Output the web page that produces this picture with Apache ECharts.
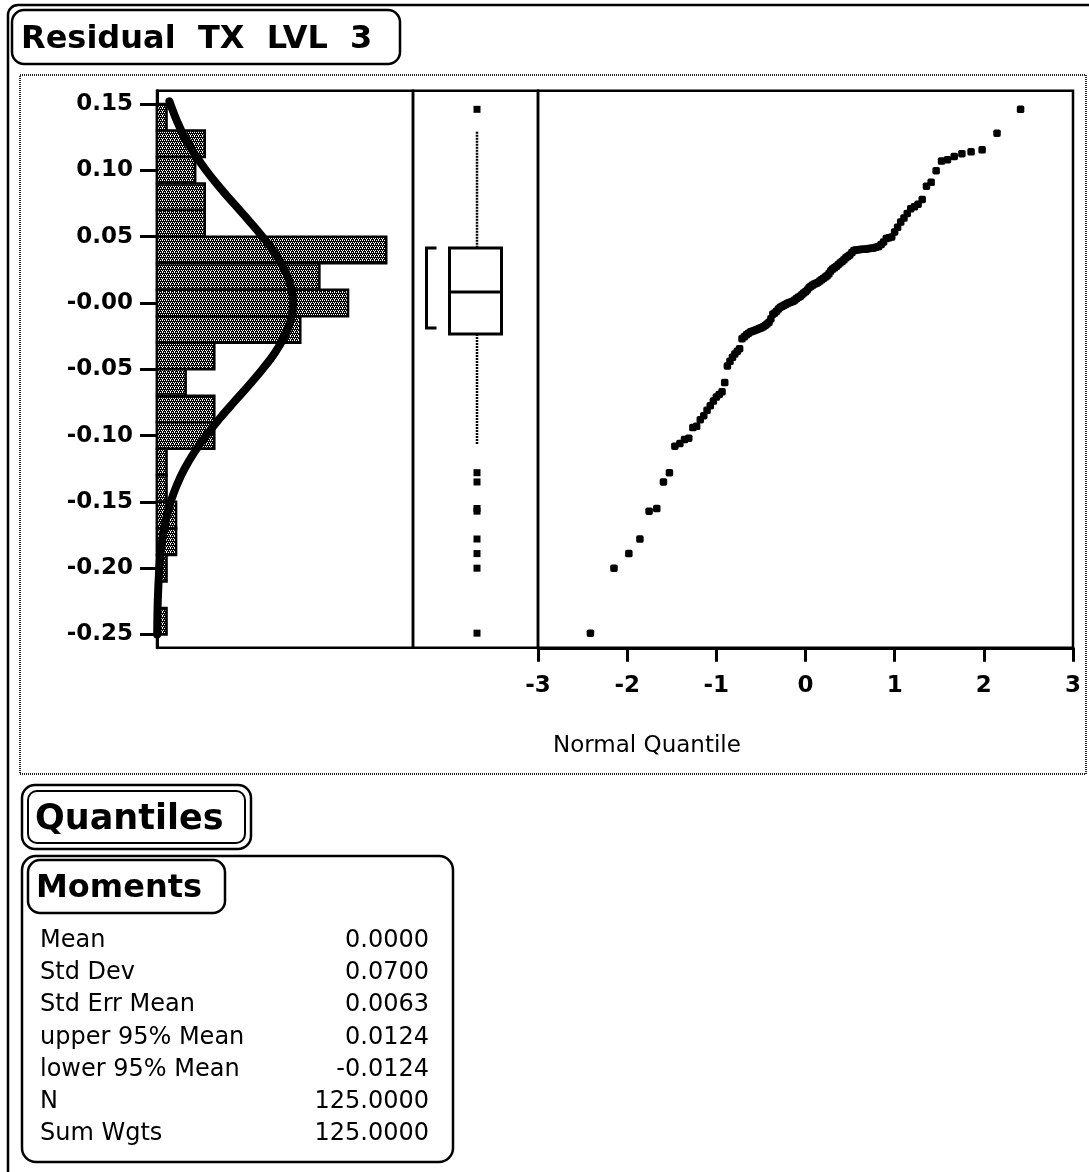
<!DOCTYPE html>
<html>
<head>
<meta charset="utf-8">
<script src="https://cdn.jsdelivr.net/npm/echarts@6.0.0/dist/echarts.min.js"></script>
<style>
  html, body { margin: 0; padding: 0; background: #fff; }
  #chart { width: 1089px; height: 1172px; }
</style>
</head>
<body>
<div id="chart"></div>
<script>
// ---------------- DATA ----------------
const chartTitle = 'Residual  TX  LVL  3';

// Y axis ticks (residual value) and their printed labels
const yTickValues = [0.15, 0.10, 0.05, 0, -0.05, -0.10, -0.15, -0.20, -0.25];
const yTickLabels = ['0.15', '0.10', '0.05', '-0.00', '-0.05', '-0.10', '-0.15', '-0.20', '-0.25'];

// Histogram: upper edge of each bin and its count (bin width 0.02)
const histBinWidth = 0.02;
const histBinTops = [0.15, 0.13, 0.11, 0.09, 0.07, 0.05, 0.03, 0.01, -0.01, -0.03,
                     -0.05, -0.07, -0.09, -0.11, -0.13, -0.15, -0.17, -0.19, -0.21, -0.23];
const histCounts  = [1, 5, 4, 5, 5, 24, 17, 20, 15, 6,
                     3, 6, 6, 1, 1, 2, 2, 1, 0, 1];

// Fitted normal curve (in histogram count units), read along the residual axis
const normalCurveValues = [0.152, 0.1375, 0.125, 0.1125, 0.10, 0.0875, 0.075, 0.0625, 0.05, 0.0375,
                           0.025, 0.0125, 0, -0.0125, -0.025, -0.0375, -0.05, -0.0625, -0.075, -0.0875,
                           -0.10, -0.1125, -0.125, -0.1375, -0.15, -0.1625, -0.175, -0.1875, -0.20, -0.225, -0.25];
const normalCurveCounts = [1.3, 2.07, 2.89, 3.92, 5.14, 6.52, 8.03, 9.57, 11.04, 12.35,
                           13.37, 14.02, 14.25, 14.02, 13.37, 12.35, 11.04, 9.57, 8.03, 6.52,
                           5.14, 3.92, 2.89, 2.07, 1.43, 0.96, 0.63, 0.39, 0.24, 0.08, 0.02];

// Outlier box plot: [lower whisker, Q1, median, Q3, upper whisker]
const boxStats = [-0.107, -0.0235, 0.0083, 0.0414, 0.129];
// Shortest-half bracket [low, high]
const shortestHalf = [-0.0189, 0.0415];
const boxOutliers = [0.146, -0.128, -0.135, -0.155, -0.157, -0.178, -0.189, -0.200, -0.249];

// Normal quantile plot: normal quantile of each ordered residual
const normalQuantiles = [
  -2.412, -2.148, -1.981, -1.857, -1.754, -1.668, -1.593, -1.526, -1.465, -1.409,
  -1.357, -1.309, -1.263, -1.221, -1.180, -1.141, -1.104, -1.068, -1.033, -1.000,
  -0.967, -0.936, -0.906, -0.876, -0.847, -0.819, -0.792, -0.765, -0.739, -0.712,
  -0.687, -0.662, -0.638, -0.613, -0.589, -0.566, -0.543, -0.520, -0.497, -0.475,
  -0.453, -0.431, -0.409, -0.388, -0.366, -0.345, -0.324, -0.303, -0.282, -0.262,
  -0.241, -0.221, -0.200, -0.180, -0.160, -0.140, -0.120, -0.100, -0.080, -0.060,
  -0.040, -0.020, 0.000, 0.020, 0.040, 0.060, 0.080, 0.100, 0.120, 0.140,
  0.160, 0.180, 0.200, 0.221, 0.241, 0.262, 0.282, 0.303, 0.324, 0.345,
  0.366, 0.388, 0.409, 0.431, 0.453, 0.475, 0.497, 0.520, 0.543, 0.566,
  0.589, 0.613, 0.638, 0.662, 0.687, 0.712, 0.739, 0.765, 0.792, 0.819,
  0.847, 0.876, 0.906, 0.936, 0.967, 1.000, 1.033, 1.068, 1.104, 1.141,
  1.180, 1.221, 1.263, 1.309, 1.357, 1.409, 1.465, 1.526, 1.593, 1.668,
  1.754, 1.857, 1.981, 2.148, 2.412
];
const sortedResiduals = [
  -0.249, -0.200, -0.189, -0.178, -0.157, -0.155, -0.135, -0.128, -0.108, -0.106,
  -0.103, -0.102, -0.094, -0.093, -0.088, -0.085, -0.081, -0.0775, -0.074, -0.071,
  -0.069, -0.067, -0.060, -0.0475, -0.044, -0.041, -0.0385, -0.0365, -0.0345, -0.027,
  -0.0255, -0.024, -0.0228, -0.0218, -0.0212, -0.0205, -0.020, -0.0193, -0.0188, -0.018,
  -0.017, -0.0158, -0.0145, -0.012, -0.0085, -0.0075, -0.0062, -0.0045, -0.0032, -0.0025,
  -0.0018, -0.001, -0.0002, 0.0003, 0.0008, 0.0012, 0.0022, 0.0033, 0.0042, 0.005,
  0.0062, 0.0075, 0.0085, 0.0098, 0.0115, 0.0125, 0.0135, 0.0142, 0.0148, 0.0155,
  0.0165, 0.0175, 0.0185, 0.0195, 0.0205, 0.022, 0.024, 0.0255, 0.0265, 0.0275,
  0.0288, 0.0302, 0.0312, 0.0325, 0.034, 0.0352, 0.0362, 0.038, 0.0395, 0.040,
  0.0402, 0.0403, 0.0405, 0.0405, 0.0407, 0.041, 0.0412, 0.0415, 0.042, 0.0425,
  0.044, 0.046, 0.0485, 0.0492, 0.0498, 0.0535, 0.057, 0.061, 0.064, 0.0675,
  0.071, 0.0725, 0.0745, 0.078, 0.088, 0.091, 0.0997, 0.107, 0.108, 0.1105,
  0.1125, 0.114, 0.1155, 0.128, 0.146
];
const xTickLabelName = 'Normal Quantile';

// Moments table
const momentNames  = ['Mean', 'Std Dev', 'Std Err Mean', 'upper 95% Mean', 'lower 95% Mean', 'N', 'Sum Wgts'];
const momentValues = ['0.0000', '0.0700', '0.0063', '0.0124', '-0.0124', '125.0000', '125.0000'];
const quantilesTitle = 'Quantiles';
const momentsTitle = 'Moments';

// ---------------- CHART ----------------
const FONT = '"DejaVu Sans", Verdana, sans-serif';
const Y_MIN = -0.26, Y_MAX = 0.16;
const GRID_TOP = 90.75, GRID_H = 557;

// dither pattern for histogram bars (dark halftone)
const pat = document.createElement('canvas');
pat.width = 4; pat.height = 4;
(function () {
  const c = pat.getContext('2d');
  c.fillStyle = '#000'; c.fillRect(0, 0, 4, 4);
  c.fillStyle = '#fff';
  [[0, 0], [2, 0], [1, 2], [3, 2], [2, 3]].forEach(p => c.fillRect(p[0], p[1], 1, 1));
})();

const histData = histBinTops.map((t, i) => [histCounts[i], t - histBinWidth, t]);
const curveData = normalCurveValues.map((v, i) => [normalCurveCounts[i], v]);
const qqData = sortedResiduals.map((v, i) => [normalQuantiles[i], v]);
const outlierData = boxOutliers.map(v => [0, v]);

function yLabelFmt(v) {
  const i = yTickValues.findIndex(t => Math.abs(t - v) < 1e-9);
  return i >= 0 ? yTickLabels[i] : '';
}

const hiddenAxis = {
  axisLine: { show: false }, axisTick: { show: false },
  axisLabel: { show: false }, splitLine: { show: false }
};

const graphics = [];
// outer frame
graphics.push({ type: 'rect', shape: { x: 8, y: 5, width: 1100, height: 1200, r: 10 },
  style: { fill: 'none', stroke: '#000', lineWidth: 2.5 }, silent: true });
// title box
graphics.push({ type: 'rect', shape: { x: 12, y: 10, width: 388, height: 54, r: 12 },
  style: { fill: 'none', stroke: '#000', lineWidth: 2.5 }, silent: true });
graphics.push({ type: 'text', x: 21, y: 40, style: { text: chartTitle, font: 'bold 32px ' + FONT,
  fill: '#000', align: 'left', verticalAlign: 'middle' }, silent: true });
// dotted report frame
graphics.push({ type: 'rect', shape: { x: 20, y: 75, width: 1066, height: 699 },
  style: { fill: 'none', stroke: '#222', lineWidth: 2, lineDash: [1, 1] }, silent: true });
// axis name
graphics.push({ type: 'text', x: 553, y: 746, style: { text: xTickLabelName, font: '23px ' + FONT,
  fill: '#000', align: 'left', verticalAlign: 'middle' }, silent: true });
// Quantiles box (double border)
graphics.push({ type: 'rect', shape: { x: 22, y: 785, width: 229, height: 64, r: 13 },
  style: { fill: 'none', stroke: '#000', lineWidth: 2.5 }, silent: true });
graphics.push({ type: 'rect', shape: { x: 28, y: 791, width: 217, height: 52, r: 9 },
  style: { fill: 'none', stroke: '#000', lineWidth: 2 }, silent: true });
graphics.push({ type: 'text', x: 35, y: 820, style: { text: quantilesTitle, font: 'bold 35px ' + FONT,
  fill: '#000', align: 'left', verticalAlign: 'middle' }, silent: true });
// Moments box
graphics.push({ type: 'rect', shape: { x: 22, y: 856, width: 431, height: 306, r: 14 },
  style: { fill: 'none', stroke: '#000', lineWidth: 2.5 }, silent: true });
graphics.push({ type: 'rect', shape: { x: 28, y: 860, width: 197, height: 53, r: 12 },
  style: { fill: 'none', stroke: '#000', lineWidth: 2.5 }, silent: true });
graphics.push({ type: 'text', x: 36, y: 889, style: { text: momentsTitle, font: 'bold 32px ' + FONT,
  fill: '#000', align: 'left', verticalAlign: 'middle' }, silent: true });
momentNames.forEach((name, i) => {
  const y = 941 + i * 32.1;
  graphics.push({ type: 'text', x: 40, y: y, style: { text: name, font: '24px ' + FONT,
    fill: '#000', align: 'left', verticalAlign: 'middle' }, silent: true });
  graphics.push({ type: 'text', x: 429, y: y, style: { text: momentValues[i], font: '24px ' + FONT,
    fill: '#000', align: 'right', verticalAlign: 'middle' }, silent: true });
});

const option = {
  animation: false,
  backgroundColor: '#fff',
  grid: [
    { left: 157, top: GRID_TOP, width: 256, height: GRID_H, show: true, borderColor: '#000', borderWidth: 2.5, backgroundColor: 'transparent' },
    { left: 413, top: GRID_TOP, width: 125, height: GRID_H, show: true, borderColor: '#000', borderWidth: 2.5, backgroundColor: 'transparent' },
    { left: 538, top: GRID_TOP, width: 535, height: GRID_H, show: true, borderColor: '#000', borderWidth: 2.5, backgroundColor: 'transparent' }
  ],
  xAxis: [
    Object.assign({ type: 'value', gridIndex: 0, min: 0, max: 26.8 }, hiddenAxis),
    Object.assign({ type: 'category', gridIndex: 1, data: ['Residual TX LVL 3'], boundaryGap: true }, hiddenAxis),
    {
      type: 'value', gridIndex: 2, min: -3, max: 3, interval: 1, position: 'bottom',
      axisLine: { show: true, onZero: false, lineStyle: { color: '#000', width: 3 } },
      axisTick: { show: true, inside: false, length: 14, lineStyle: { color: '#000', width: 3 } },
      axisLabel: { show: true, margin: 27, color: '#000', fontFamily: FONT, fontSize: 23, fontWeight: 'bold',
        showMinLabel: true, showMaxLabel: true },
      splitLine: { show: false }
    }
  ],
  yAxis: [
    {
      type: 'value', gridIndex: 0, min: Y_MIN, max: Y_MAX,
      axisLine: { show: true, onZero: false, lineStyle: { color: '#000', width: 3 } },
      axisTick: { show: true, inside: false, length: 17, customValues: yTickValues, lineStyle: { color: '#000', width: 3 } },
      axisLabel: { show: true, margin: 24, customValues: yTickValues, formatter: yLabelFmt,
        color: '#000', fontFamily: FONT, fontSize: 23, fontWeight: 'bold' },
      splitLine: { show: false }
    },
    Object.assign({ type: 'value', gridIndex: 1, min: Y_MIN, max: Y_MAX }, hiddenAxis),
    Object.assign({ type: 'value', gridIndex: 2, min: Y_MIN, max: Y_MAX }, hiddenAxis)
  ],
  graphic: { elements: graphics },
  series: [
    {
      name: 'Histogram', type: 'custom', xAxisIndex: 0, yAxisIndex: 0, z: 2,
      data: histData,
      renderItem: function (params, api) {
        const c = api.value(0);
        if (!c) return null;
        const p1 = api.coord([0, api.value(2)]);
        const p2 = api.coord([c, api.value(1)]);
        return {
          type: 'rect',
          shape: { x: p1[0], y: p1[1], width: p2[0] - p1[0], height: p2[1] - p1[1] },
          style: { fill: { image: pat, repeat: 'repeat' }, stroke: '#000', lineWidth: 2.5 }
        };
      }
    },
    {
      name: 'Normal fit', type: 'line', xAxisIndex: 0, yAxisIndex: 0, z: 5,
      data: curveData, smooth: 0.4, showSymbol: false, symbol: 'none',
      lineStyle: { color: '#000', width: 8, cap: 'round', join: 'round' }
    },
    {
      name: 'Box', type: 'custom', xAxisIndex: 1, yAxisIndex: 1, z: 3,
      data: [[0].concat(boxStats, shortestHalf)],
      renderItem: function (params, api) {
        const yOf = v => api.coord([0, v])[1];
        const cx = api.coord([0, 0])[0];
        const wLo = yOf(api.value(1)), q1 = yOf(api.value(2)), med = yOf(api.value(3)),
              q3 = yOf(api.value(4)), wHi = yOf(api.value(5));
        const sLo = yOf(api.value(6)), sHi = yOf(api.value(7));
        const dash = { stroke: '#000', lineWidth: 2.5, lineDash: [2, 1] };
        const solid = { stroke: '#000', lineWidth: 3, fill: 'none' };
        const bx = cx + 1.5;
        return {
          type: 'group',
          children: [
            { type: 'line', shape: { x1: bx, y1: wHi, x2: bx, y2: q3 }, style: dash },
            { type: 'line', shape: { x1: bx, y1: q1, x2: bx, y2: wLo }, style: dash },
            { type: 'rect', shape: { x: cx - 26, y: q3, width: 52, height: q1 - q3 },
              style: { fill: '#fff', stroke: '#000', lineWidth: 3 } },
            { type: 'line', shape: { x1: cx - 26, y1: med, x2: cx + 26, y2: med }, style: solid },
            { type: 'polyline', shape: { points: [[cx - 39, sHi], [cx - 49, sHi], [cx - 49, sLo], [cx - 39, sLo]] },
              style: solid }
          ]
        };
      }
    },
    {
      name: 'Outliers', type: 'scatter', xAxisIndex: 1, yAxisIndex: 1, z: 4,
      data: outlierData, symbol: 'rect', symbolSize: 7, symbolOffset: [1.5, 0],
      itemStyle: { color: '#000', opacity: 1 }
    },
    {
      name: 'Normal quantile', type: 'scatter', xAxisIndex: 2, yAxisIndex: 2, z: 4,
      data: qqData, symbol: 'roundRect', symbolSize: 7.5,
      itemStyle: { color: '#000', opacity: 1 }
    }
  ]
};

const chart = echarts.init(document.getElementById('chart'), null, { renderer: 'canvas' });
chart.setOption(option);
</script>
</body>
</html>
